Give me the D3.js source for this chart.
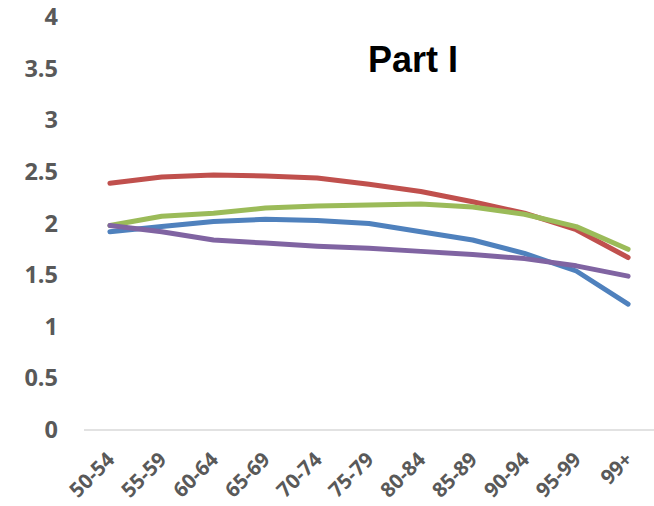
<!DOCTYPE html>
<html>
<head>
<meta charset="utf-8">
<script src="https://cdn.jsdelivr.net/npm/d3@7"></script>
<style>
  html, body { margin: 0; padding: 0; background: #fff; }
  svg { display: block; }
</style>
</head>
<body>
<svg id="chart" width="654" height="506"></svg>
<script>
// Age groups along the x axis
const categories = ["50-54", "55-59", "60-64", "65-69", "70-74", "75-79", "80-84", "85-89", "90-94", "95-99", "99+"];

// Series values, one per age group
const seriesBlue   = [1.92, 1.97, 2.02, 2.04, 2.03, 2.00, 1.92, 1.84, 1.71, 1.54, 1.22];
const seriesRed    = [2.39, 2.45, 2.47, 2.46, 2.44, 2.38, 2.31, 2.21, 2.10, 1.94, 1.67];
const seriesGreen  = [1.98, 2.07, 2.10, 2.15, 2.17, 2.18, 2.19, 2.16, 2.09, 1.97, 1.75];
const seriesPurple = [1.98, 1.92, 1.84, 1.81, 1.78, 1.76, 1.73, 1.70, 1.66, 1.59, 1.49];

// Y axis tick values
const yTicks = [0, 0.5, 1, 1.5, 2, 2.5, 3, 3.5, 4];

const titleText = "Part I";

const series = [
  { name: "blue",   color: "#4f81bd", values: seriesBlue },
  { name: "red",    color: "#c0504d", values: seriesRed },
  { name: "green",  color: "#9bbb59", values: seriesGreen },
  { name: "purple", color: "#8064a2", values: seriesPurple }
];

const svg = d3.select("#chart");

const plot = { left: 84, right: 654, top: 17, bottom: 430 };

const x = d3.scaleBand()
  .domain(categories)
  .range([plot.left, plot.right]);

const y = d3.scaleLinear()
  .domain([0, 4])
  .range([plot.bottom, plot.top]);

const labelFont = "'Open Sans', 'DejaVu Sans', sans-serif";

// Y axis labels (no axis line or gridlines)
const yAxis = svg.append("g")
  .attr("transform", `translate(${plot.left - 26},0)`)
  .call(d3.axisLeft(y).tickValues(yTicks).tickSize(0).tickPadding(0).tickFormat(d3.format("")));
yAxis.select(".domain").remove();
yAxis.selectAll("text")
  .attr("font-family", labelFont)
  .attr("font-weight", "bold")
  .attr("font-size", 23.5)
  .attr("fill", "#595959");

// X axis baseline
svg.append("line")
  .attr("x1", plot.left).attr("x2", plot.right)
  .attr("y1", y(0)).attr("y2", y(0))
  .attr("stroke", "#d9d9d9")
  .attr("stroke-width", 1.5);

// X axis labels, rotated
const xAxis = svg.append("g")
  .attr("transform", `translate(0,${y(0)})`)
  .call(d3.axisBottom(x).tickSize(0).tickPadding(0));
xAxis.select(".domain").remove();
xAxis.selectAll("text")
  .attr("font-family", labelFont)
  .attr("font-weight", "bold")
  .attr("font-size", 20.5)
  .attr("fill", "#595959")
  .attr("text-anchor", "end")
  .attr("dy", null)
  .attr("y", 0)
  .attr("transform", "translate(6,31) rotate(-45)");

// Series lines
const line = d3.line()
  .x((d, i) => x(categories[i]) + x.bandwidth() / 2)
  .y(d => y(d));

svg.append("g")
  .selectAll("path")
  .data(series)
  .join("path")
  .attr("d", d => line(d.values))
  .attr("fill", "none")
  .attr("stroke", d => d.color)
  .attr("stroke-width", 5)
  .attr("stroke-linecap", "round")
  .attr("stroke-linejoin", "round");

// Title
svg.append("text")
  .attr("x", 413)
  .attr("y", 72)
  .attr("text-anchor", "middle")
  .attr("font-family", "'Liberation Sans', Arial, sans-serif")
  .attr("font-weight", "bold")
  .attr("font-size", 36)
  .attr("fill", "#000")
  .text(titleText);
</script>
</body>
</html>
